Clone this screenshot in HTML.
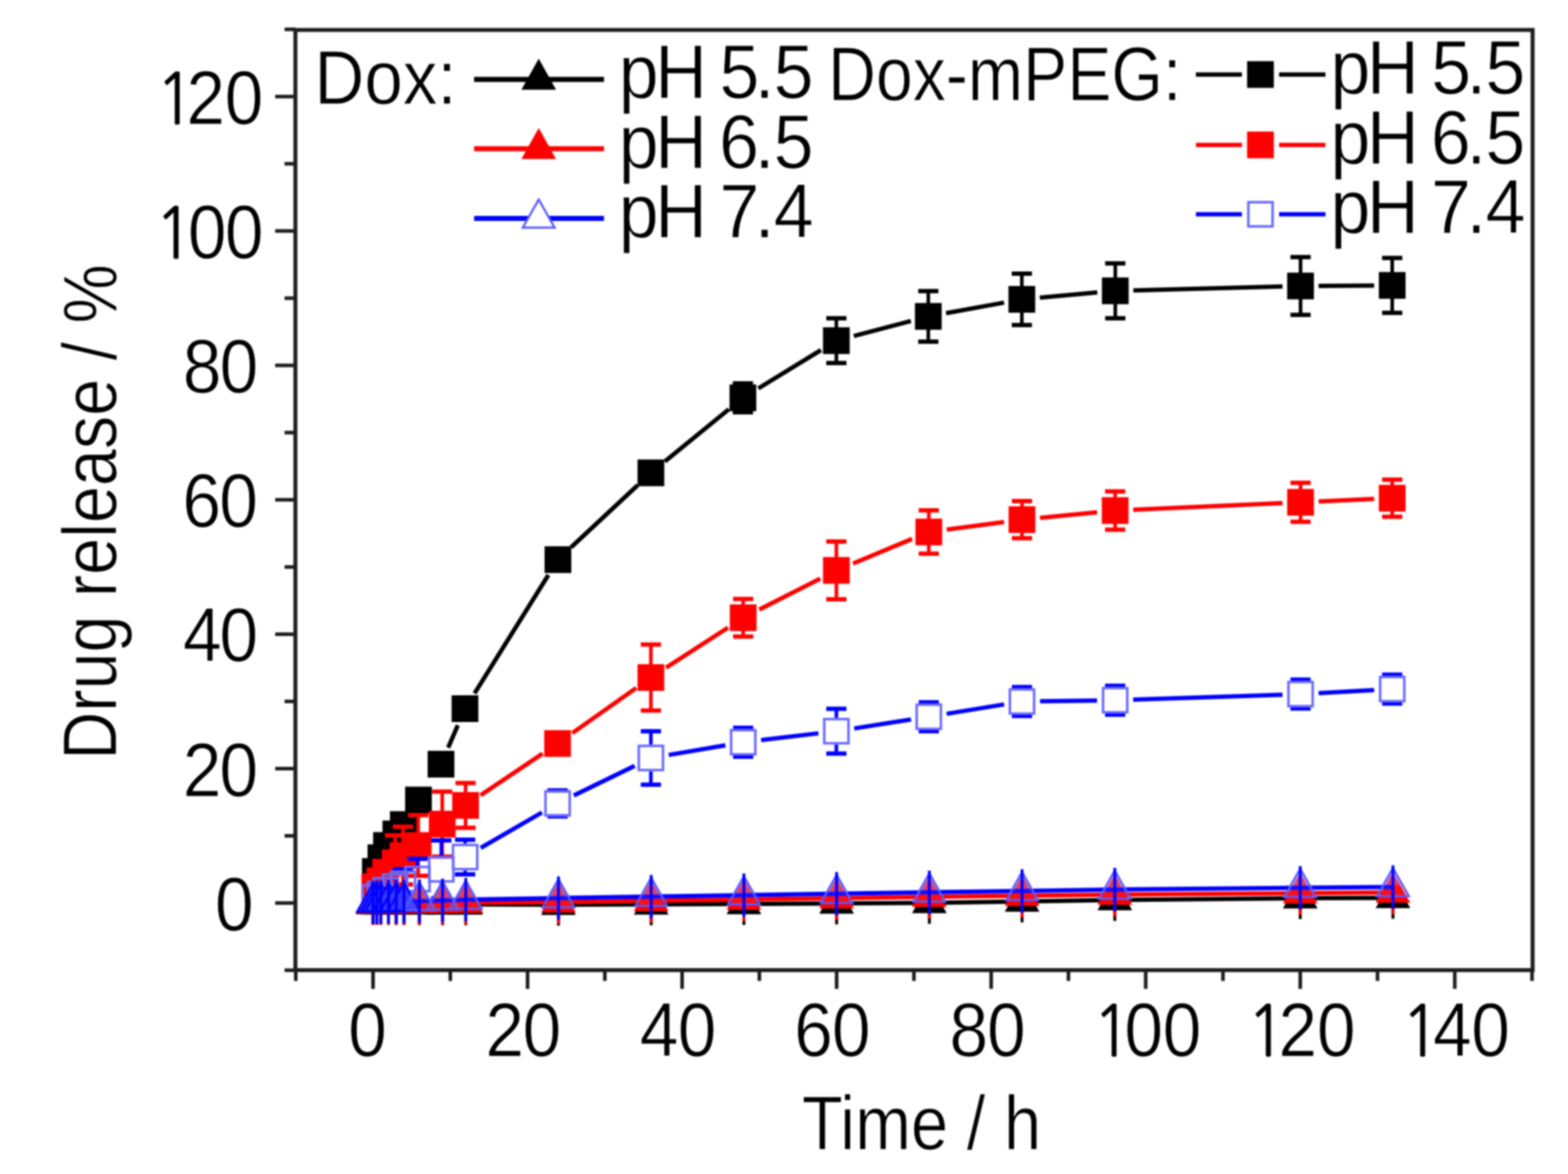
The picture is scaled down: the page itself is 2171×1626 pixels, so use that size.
<!DOCTYPE html>
<html><head><meta charset="utf-8"><title>Drug release</title>
<style>html,body{margin:0;padding:0;background:#fff;width:2171px;height:1626px;overflow:hidden}svg{display:block;filter:blur(0.9px)}</style>
</head><body><svg width="2171" height="1626" viewBox="0 0 2171 1626"><defs><linearGradient id="tg" x1="0" y1="0" x2="0" y2="1"><stop offset="0" stop-color="#a8a8ff" stop-opacity="0.4"/><stop offset="0.58" stop-color="#a8a8ff" stop-opacity="0.4"/><stop offset="0.62" stop-color="#a8a8ff" stop-opacity="0.1"/><stop offset="1" stop-color="#a8a8ff" stop-opacity="0.1"/></linearGradient></defs><rect width="2171" height="1626" fill="#fff"/><g stroke="#1e1e1e" stroke-width="5"><rect x="409" y="41.5" width="1713" height="1302.1" fill="none" stroke="#1e1e1e" stroke-width="5.5"/><line x1="394" y1="1343.78" x2="409" y2="1343.78"/><line x1="381" y1="1250.70" x2="409" y2="1250.70"/><line x1="394" y1="1157.62" x2="409" y2="1157.62"/><line x1="381" y1="1064.54" x2="409" y2="1064.54"/><line x1="394" y1="971.46" x2="409" y2="971.46"/><line x1="381" y1="878.38" x2="409" y2="878.38"/><line x1="394" y1="785.30" x2="409" y2="785.30"/><line x1="381" y1="692.22" x2="409" y2="692.22"/><line x1="394" y1="599.14" x2="409" y2="599.14"/><line x1="381" y1="506.06" x2="409" y2="506.06"/><line x1="394" y1="412.98" x2="409" y2="412.98"/><line x1="381" y1="319.90" x2="409" y2="319.90"/><line x1="394" y1="226.82" x2="409" y2="226.82"/><line x1="381" y1="133.74" x2="409" y2="133.74"/><line x1="394" y1="40.66" x2="409" y2="40.66"/><line x1="409.52" y1="1343.6" x2="409.52" y2="1358.6"/><line x1="516.50" y1="1343.6" x2="516.50" y2="1369.6"/><line x1="623.48" y1="1343.6" x2="623.48" y2="1358.6"/><line x1="730.46" y1="1343.6" x2="730.46" y2="1369.6"/><line x1="837.44" y1="1343.6" x2="837.44" y2="1358.6"/><line x1="944.42" y1="1343.6" x2="944.42" y2="1369.6"/><line x1="1051.40" y1="1343.6" x2="1051.40" y2="1358.6"/><line x1="1158.38" y1="1343.6" x2="1158.38" y2="1369.6"/><line x1="1265.36" y1="1343.6" x2="1265.36" y2="1358.6"/><line x1="1372.34" y1="1343.6" x2="1372.34" y2="1369.6"/><line x1="1479.32" y1="1343.6" x2="1479.32" y2="1358.6"/><line x1="1586.30" y1="1343.6" x2="1586.30" y2="1369.6"/><line x1="1693.28" y1="1343.6" x2="1693.28" y2="1358.6"/><line x1="1800.26" y1="1343.6" x2="1800.26" y2="1369.6"/><line x1="1907.24" y1="1343.6" x2="1907.24" y2="1358.6"/><line x1="2014.22" y1="1343.6" x2="2014.22" y2="1369.6"/><line x1="2121.20" y1="1343.6" x2="2121.20" y2="1358.6"/></g><g font-family="Liberation Sans, Arial, sans-serif" fill="#000" stroke="#fff" stroke-width="1"><text x="234.18 280.48 338.09" y="0" transform="translate(0,171.74) scale(0.92,1)" font-size="105"><tspan font-family="NanumGothic, Liberation Sans, sans-serif" font-size="97" stroke="#000" stroke-width="0.8">1</tspan>20</text><text x="232.55 282.66 338.20" y="0" transform="translate(0,357.90) scale(0.92,1)" font-size="105"><tspan font-family="NanumGothic, Liberation Sans, sans-serif" font-size="97" stroke="#000" stroke-width="0.8">1</tspan>00</text><text x="275.05 330.48" y="0" transform="translate(0,544.06) scale(0.92,1)" font-size="105">80</text><text x="274.57 329.94" y="0" transform="translate(0,730.22) scale(0.92,1)" font-size="105">60</text><text x="275.36 330.27" y="0" transform="translate(0,916.38) scale(0.92,1)" font-size="105">40</text><text x="275.05 330.27" y="0" transform="translate(0,1102.54) scale(0.92,1)" font-size="105">20</text><text x="323.42" y="0" transform="translate(0,1288.70) scale(0.92,1)" font-size="105">0</text><text x="523.96" y="0" transform="translate(0,1462.60) scale(0.92,1)" font-size="105">0</text><text x="730.38 786.46" y="0" transform="translate(0,1462.60) scale(0.92,1)" font-size="105">20</text><text x="962.65 1019.72" y="0" transform="translate(0,1462.60) scale(0.92,1)" font-size="105">40</text><text x="1195.12 1252.01" y="0" transform="translate(0,1462.60) scale(0.92,1)" font-size="105">60</text><text x="1428.74 1485.27" y="0" transform="translate(0,1462.60) scale(0.92,1)" font-size="105">80</text><text x="1644.40 1692.01 1749.83" y="0" transform="translate(0,1462.60) scale(0.92,1)" font-size="105"><tspan font-family="NanumGothic, Liberation Sans, sans-serif" font-size="97" stroke="#000" stroke-width="0.8">1</tspan>00</text><text x="1876.36 1923.96 1981.79" y="0" transform="translate(0,1462.60) scale(0.92,1)" font-size="105"><tspan font-family="NanumGothic, Liberation Sans, sans-serif" font-size="97" stroke="#000" stroke-width="0.8">1</tspan>20</text><text x="2108.75 2156.67 2214.18" y="0" transform="translate(0,1462.60) scale(0.92,1)" font-size="105"><tspan font-family="NanumGothic, Liberation Sans, sans-serif" font-size="97" stroke="#000" stroke-width="0.8">1</tspan>40</text><text transform="translate(1110.16,1591.50) scale(0.8830,1)" font-size="105">Time / h</text><text transform="translate(160.50,1052.26) rotate(-90) scale(0.8777,1)" font-size="105">Drug release / %</text><text transform="translate(435.25,143.80) scale(0.9119,1)" font-size="105">Dox:</text><text transform="translate(1146.38,139.40) scale(0.8738,1)" font-size="105">Dox-mPEG:</text><text x="901.65 954.78 1020.56 1048.49 1099.72 1127.44" y="0" transform="translate(0,136.20) scale(0.95,1)" font-size="105">pH 5.5</text><text x="901.65 954.78 1020.56 1048.02 1099.72 1127.44" y="0" transform="translate(0,232.60) scale(0.95,1)" font-size="105">pH 6.5</text><text x="901.65 954.78 1020.56 1048.34 1099.72 1127.65" y="0" transform="translate(0,329.00) scale(0.95,1)" font-size="105">pH 7.4</text><text x="1938.92 1992.04 2057.83 2085.76 2136.98 2164.70" y="0" transform="translate(0,130.30) scale(0.95,1)" font-size="105">pH 5.5</text><text x="1938.92 1992.04 2057.83 2085.28 2136.98 2164.70" y="0" transform="translate(0,227.30) scale(0.95,1)" font-size="105">pH 6.5</text><text x="1938.92 1992.04 2057.83 2085.60 2136.98 2164.91" y="0" transform="translate(0,323.30) scale(0.95,1)" font-size="105">pH 7.4</text></g><g><path d="M620.51,1035.45L633.89,1004.45M657.03,960.29L759.27,796.31M790.77,758.04L882.93,671.96M920.57,639.10L1009.23,566.80M1049.92,537.95L1136.68,484.85M1182.17,465.42L1261.13,444.58M1309.89,433.72L1390.21,419.08M1439.70,412.33L1519.30,405.07M1569.19,402.15L1775.71,396.75M1825.70,395.94L1902.60,395.46" stroke="#000" stroke-width="6" fill="none" stroke-linecap="butt"/><line x1="1028.60" y1="531.00" x2="1028.60" y2="551.00" stroke="#000" stroke-width="5"/><line x1="1028.60" y1="551.00" x2="1028.60" y2="571.00" stroke="#000" stroke-width="5"/><line x1="1014.60" y1="531.00" x2="1042.60" y2="531.00" stroke="#000" stroke-width="6"/><line x1="1014.60" y1="571.00" x2="1042.60" y2="571.00" stroke="#000" stroke-width="6"/><line x1="1158.00" y1="440.80" x2="1158.00" y2="471.80" stroke="#000" stroke-width="5"/><line x1="1158.00" y1="471.80" x2="1158.00" y2="502.80" stroke="#000" stroke-width="5"/><line x1="1144.00" y1="440.80" x2="1172.00" y2="440.80" stroke="#000" stroke-width="6"/><line x1="1144.00" y1="502.80" x2="1172.00" y2="502.80" stroke="#000" stroke-width="6"/><line x1="1285.30" y1="403.20" x2="1285.30" y2="438.20" stroke="#000" stroke-width="5"/><line x1="1285.30" y1="438.20" x2="1285.30" y2="473.20" stroke="#000" stroke-width="5"/><line x1="1271.30" y1="403.20" x2="1299.30" y2="403.20" stroke="#000" stroke-width="6"/><line x1="1271.30" y1="473.20" x2="1299.30" y2="473.20" stroke="#000" stroke-width="6"/><line x1="1414.80" y1="379.00" x2="1414.80" y2="414.60" stroke="#000" stroke-width="5"/><line x1="1414.80" y1="414.60" x2="1414.80" y2="450.20" stroke="#000" stroke-width="5"/><line x1="1400.80" y1="379.00" x2="1428.80" y2="379.00" stroke="#000" stroke-width="6"/><line x1="1400.80" y1="450.20" x2="1428.80" y2="450.20" stroke="#000" stroke-width="6"/><line x1="1544.20" y1="364.80" x2="1544.20" y2="402.80" stroke="#000" stroke-width="5"/><line x1="1544.20" y1="402.80" x2="1544.20" y2="440.80" stroke="#000" stroke-width="5"/><line x1="1530.20" y1="364.80" x2="1558.20" y2="364.80" stroke="#000" stroke-width="6"/><line x1="1530.20" y1="440.80" x2="1558.20" y2="440.80" stroke="#000" stroke-width="6"/><line x1="1800.70" y1="356.10" x2="1800.70" y2="396.10" stroke="#000" stroke-width="5"/><line x1="1800.70" y1="396.10" x2="1800.70" y2="436.10" stroke="#000" stroke-width="5"/><line x1="1786.70" y1="356.10" x2="1814.70" y2="356.10" stroke="#000" stroke-width="6"/><line x1="1786.70" y1="436.10" x2="1814.70" y2="436.10" stroke="#000" stroke-width="6"/><line x1="1927.60" y1="357.30" x2="1927.60" y2="395.30" stroke="#000" stroke-width="5"/><line x1="1927.60" y1="395.30" x2="1927.60" y2="433.30" stroke="#000" stroke-width="5"/><line x1="1913.60" y1="357.30" x2="1941.60" y2="357.30" stroke="#000" stroke-width="6"/><line x1="1913.60" y1="433.30" x2="1941.60" y2="433.30" stroke="#000" stroke-width="6"/><rect x="501.20" y="1188.50" width="37" height="37" fill="#000"/><rect x="508.90" y="1169.50" width="37" height="37" fill="#000"/><rect x="516.60" y="1152.50" width="37" height="37" fill="#000"/><rect x="529.60" y="1136.50" width="37" height="37" fill="#000"/><rect x="539.90" y="1123.50" width="37" height="37" fill="#000"/><rect x="560.90" y="1089.50" width="37" height="37" fill="#000"/><rect x="592.10" y="1039.90" width="37" height="37" fill="#000"/><rect x="625.30" y="963.00" width="37" height="37" fill="#000"/><rect x="754.00" y="756.60" width="37" height="37" fill="#000"/><rect x="882.70" y="636.40" width="37" height="37" fill="#000"/><rect x="1010.10" y="532.50" width="37" height="37" fill="#000"/><rect x="1139.50" y="453.30" width="37" height="37" fill="#000"/><rect x="1266.80" y="419.70" width="37" height="37" fill="#000"/><rect x="1396.30" y="396.10" width="37" height="37" fill="#000"/><rect x="1525.70" y="384.30" width="37" height="37" fill="#000"/><rect x="1782.20" y="377.60" width="37" height="37" fill="#000"/><rect x="1909.10" y="376.80" width="37" height="37" fill="#000"/><path d="M665.34,1101.55L751.26,1043.75M792.41,1015.36L880.79,952.84M922.18,924.81L1008.02,869.19M1051.28,844.27L1135.72,801.33M1181.09,780.41L1262.91,746.39M1310.78,733.51L1390.22,722.99M1439.88,717.27L1519.12,709.53M1568.98,705.99L1775.72,696.81M1825.67,694.58L1902.63,691.12" stroke="#f00" stroke-width="6" fill="none" stroke-linecap="butt"/><line x1="547.00" y1="1157.00" x2="547.00" y2="1195.00" stroke="#f00" stroke-width="5"/><line x1="547.00" y1="1195.00" x2="547.00" y2="1233.00" stroke="#f00" stroke-width="5"/><line x1="533.00" y1="1157.00" x2="561.00" y2="1157.00" stroke="#f00" stroke-width="6"/><line x1="533.00" y1="1233.00" x2="561.00" y2="1233.00" stroke="#f00" stroke-width="6"/><line x1="558.00" y1="1145.00" x2="558.00" y2="1185.00" stroke="#f00" stroke-width="5"/><line x1="558.00" y1="1185.00" x2="558.00" y2="1225.00" stroke="#f00" stroke-width="5"/><line x1="544.00" y1="1145.00" x2="572.00" y2="1145.00" stroke="#f00" stroke-width="6"/><line x1="544.00" y1="1225.00" x2="572.00" y2="1225.00" stroke="#f00" stroke-width="6"/><line x1="579.00" y1="1129.00" x2="579.00" y2="1171.00" stroke="#f00" stroke-width="5"/><line x1="579.00" y1="1171.00" x2="579.00" y2="1213.00" stroke="#f00" stroke-width="5"/><line x1="565.00" y1="1129.00" x2="593.00" y2="1129.00" stroke="#f00" stroke-width="6"/><line x1="565.00" y1="1213.00" x2="593.00" y2="1213.00" stroke="#f00" stroke-width="6"/><line x1="612.30" y1="1096.40" x2="612.30" y2="1141.40" stroke="#f00" stroke-width="5"/><line x1="612.30" y1="1141.40" x2="612.30" y2="1186.40" stroke="#f00" stroke-width="5"/><line x1="598.30" y1="1096.40" x2="626.30" y2="1096.40" stroke="#f00" stroke-width="6"/><line x1="598.30" y1="1186.40" x2="626.30" y2="1186.40" stroke="#f00" stroke-width="6"/><line x1="644.60" y1="1084.50" x2="644.60" y2="1115.50" stroke="#f00" stroke-width="5"/><line x1="644.60" y1="1115.50" x2="644.60" y2="1146.50" stroke="#f00" stroke-width="5"/><line x1="630.60" y1="1084.50" x2="658.60" y2="1084.50" stroke="#f00" stroke-width="6"/><line x1="630.60" y1="1146.50" x2="658.60" y2="1146.50" stroke="#f00" stroke-width="6"/><line x1="901.20" y1="892.70" x2="901.20" y2="938.40" stroke="#f00" stroke-width="5"/><line x1="901.20" y1="938.40" x2="901.20" y2="984.10" stroke="#f00" stroke-width="5"/><line x1="887.20" y1="892.70" x2="915.20" y2="892.70" stroke="#f00" stroke-width="6"/><line x1="887.20" y1="984.10" x2="915.20" y2="984.10" stroke="#f00" stroke-width="6"/><line x1="1029.00" y1="829.60" x2="1029.00" y2="855.60" stroke="#f00" stroke-width="5"/><line x1="1029.00" y1="855.60" x2="1029.00" y2="881.60" stroke="#f00" stroke-width="5"/><line x1="1015.00" y1="829.60" x2="1043.00" y2="829.60" stroke="#f00" stroke-width="6"/><line x1="1015.00" y1="881.60" x2="1043.00" y2="881.60" stroke="#f00" stroke-width="6"/><line x1="1158.00" y1="750.00" x2="1158.00" y2="790.00" stroke="#f00" stroke-width="5"/><line x1="1158.00" y1="790.00" x2="1158.00" y2="830.00" stroke="#f00" stroke-width="5"/><line x1="1144.00" y1="750.00" x2="1172.00" y2="750.00" stroke="#f00" stroke-width="6"/><line x1="1144.00" y1="830.00" x2="1172.00" y2="830.00" stroke="#f00" stroke-width="6"/><line x1="1286.00" y1="706.80" x2="1286.00" y2="736.80" stroke="#f00" stroke-width="5"/><line x1="1286.00" y1="736.80" x2="1286.00" y2="766.80" stroke="#f00" stroke-width="5"/><line x1="1272.00" y1="706.80" x2="1300.00" y2="706.80" stroke="#f00" stroke-width="6"/><line x1="1272.00" y1="766.80" x2="1300.00" y2="766.80" stroke="#f00" stroke-width="6"/><line x1="1415.00" y1="694.00" x2="1415.00" y2="719.70" stroke="#f00" stroke-width="5"/><line x1="1415.00" y1="719.70" x2="1415.00" y2="745.40" stroke="#f00" stroke-width="5"/><line x1="1401.00" y1="694.00" x2="1429.00" y2="694.00" stroke="#f00" stroke-width="6"/><line x1="1401.00" y1="745.40" x2="1429.00" y2="745.40" stroke="#f00" stroke-width="6"/><line x1="1544.00" y1="680.60" x2="1544.00" y2="707.10" stroke="#f00" stroke-width="5"/><line x1="1544.00" y1="707.10" x2="1544.00" y2="733.60" stroke="#f00" stroke-width="5"/><line x1="1530.00" y1="680.60" x2="1558.00" y2="680.60" stroke="#f00" stroke-width="6"/><line x1="1530.00" y1="733.60" x2="1558.00" y2="733.60" stroke="#f00" stroke-width="6"/><line x1="1800.70" y1="668.70" x2="1800.70" y2="695.70" stroke="#f00" stroke-width="5"/><line x1="1800.70" y1="695.70" x2="1800.70" y2="722.70" stroke="#f00" stroke-width="5"/><line x1="1786.70" y1="668.70" x2="1814.70" y2="668.70" stroke="#f00" stroke-width="6"/><line x1="1786.70" y1="722.70" x2="1814.70" y2="722.70" stroke="#f00" stroke-width="6"/><line x1="1927.60" y1="664.30" x2="1927.60" y2="690.00" stroke="#f00" stroke-width="5"/><line x1="1927.60" y1="690.00" x2="1927.60" y2="715.70" stroke="#f00" stroke-width="5"/><line x1="1913.60" y1="664.30" x2="1941.60" y2="664.30" stroke="#f00" stroke-width="6"/><line x1="1913.60" y1="715.70" x2="1941.60" y2="715.70" stroke="#f00" stroke-width="6"/><rect x="500.50" y="1209.50" width="37" height="37" fill="#f00"/><rect x="507.50" y="1201.50" width="37" height="37" fill="#f00"/><rect x="515.50" y="1189.50" width="37" height="37" fill="#f00"/><rect x="528.50" y="1176.50" width="37" height="37" fill="#f00"/><rect x="539.50" y="1166.50" width="37" height="37" fill="#f00"/><rect x="560.50" y="1152.50" width="37" height="37" fill="#f00"/><rect x="593.80" y="1122.90" width="37" height="37" fill="#f00"/><rect x="626.10" y="1097.00" width="37" height="37" fill="#f00"/><rect x="753.50" y="1011.30" width="37" height="37" fill="#f00"/><rect x="882.70" y="919.90" width="37" height="37" fill="#f00"/><rect x="1010.50" y="837.10" width="37" height="37" fill="#f00"/><rect x="1139.50" y="771.50" width="37" height="37" fill="#f00"/><rect x="1267.50" y="718.30" width="37" height="37" fill="#f00"/><rect x="1396.50" y="701.20" width="37" height="37" fill="#f00"/><rect x="1525.50" y="688.60" width="37" height="37" fill="#f00"/><rect x="1782.20" y="677.20" width="37" height="37" fill="#f00"/><rect x="1909.10" y="671.50" width="37" height="37" fill="#f00"/><path d="M665.62,1174.45L750.38,1125.25M794.48,1101.76L878.72,1060.74M925.84,1045.60L1004.36,1032.20M1053.83,1025.06L1133.17,1015.64M1182.70,1008.84L1261.30,996.56M1310.67,988.66L1390.33,975.64M1440.00,971.25L1519.00,970.15M1568.99,968.97L1775.71,962.13M1825.66,959.94L1902.64,955.76" stroke="#00f" stroke-width="6" fill="none" stroke-linecap="butt"/><line x1="558.00" y1="1204.00" x2="558.00" y2="1205.50" stroke="#00f" stroke-width="5"/><line x1="558.00" y1="1242.50" x2="558.00" y2="1244.00" stroke="#00f" stroke-width="5"/><line x1="544.00" y1="1204.00" x2="572.00" y2="1204.00" stroke="#00f" stroke-width="6"/><line x1="544.00" y1="1244.00" x2="572.00" y2="1244.00" stroke="#00f" stroke-width="6"/><line x1="578.00" y1="1189.50" x2="578.00" y2="1199.00" stroke="#00f" stroke-width="5"/><line x1="578.00" y1="1236.00" x2="578.00" y2="1245.50" stroke="#00f" stroke-width="5"/><line x1="564.00" y1="1189.50" x2="592.00" y2="1189.50" stroke="#00f" stroke-width="6"/><line x1="564.00" y1="1245.50" x2="592.00" y2="1245.50" stroke="#00f" stroke-width="6"/><line x1="611.00" y1="1164.00" x2="611.00" y2="1185.50" stroke="#00f" stroke-width="5"/><line x1="611.00" y1="1222.50" x2="611.00" y2="1244.00" stroke="#00f" stroke-width="5"/><line x1="597.00" y1="1164.00" x2="625.00" y2="1164.00" stroke="#00f" stroke-width="6"/><line x1="597.00" y1="1244.00" x2="625.00" y2="1244.00" stroke="#00f" stroke-width="6"/><line x1="644.00" y1="1163.00" x2="644.00" y2="1168.50" stroke="#00f" stroke-width="5"/><line x1="644.00" y1="1205.50" x2="644.00" y2="1211.00" stroke="#00f" stroke-width="5"/><line x1="630.00" y1="1163.00" x2="658.00" y2="1163.00" stroke="#00f" stroke-width="6"/><line x1="630.00" y1="1211.00" x2="658.00" y2="1211.00" stroke="#00f" stroke-width="6"/><line x1="758.00" y1="1094.70" x2="786.00" y2="1094.70" stroke="#00f" stroke-width="6"/><line x1="758.00" y1="1130.70" x2="786.00" y2="1130.70" stroke="#00f" stroke-width="6"/><line x1="901.20" y1="1012.80" x2="901.20" y2="1031.30" stroke="#00f" stroke-width="5"/><line x1="901.20" y1="1068.30" x2="901.20" y2="1086.80" stroke="#00f" stroke-width="5"/><line x1="887.20" y1="1012.80" x2="915.20" y2="1012.80" stroke="#00f" stroke-width="6"/><line x1="887.20" y1="1086.80" x2="915.20" y2="1086.80" stroke="#00f" stroke-width="6"/><line x1="1029.00" y1="1008.00" x2="1029.00" y2="1009.50" stroke="#00f" stroke-width="5"/><line x1="1029.00" y1="1046.50" x2="1029.00" y2="1048.00" stroke="#00f" stroke-width="5"/><line x1="1015.00" y1="1008.00" x2="1043.00" y2="1008.00" stroke="#00f" stroke-width="6"/><line x1="1015.00" y1="1048.00" x2="1043.00" y2="1048.00" stroke="#00f" stroke-width="6"/><line x1="1158.00" y1="981.70" x2="1158.00" y2="994.20" stroke="#00f" stroke-width="5"/><line x1="1158.00" y1="1031.20" x2="1158.00" y2="1043.70" stroke="#00f" stroke-width="5"/><line x1="1144.00" y1="981.70" x2="1172.00" y2="981.70" stroke="#00f" stroke-width="6"/><line x1="1144.00" y1="1043.70" x2="1172.00" y2="1043.70" stroke="#00f" stroke-width="6"/><line x1="1286.00" y1="972.70" x2="1286.00" y2="974.20" stroke="#00f" stroke-width="5"/><line x1="1286.00" y1="1011.20" x2="1286.00" y2="1012.70" stroke="#00f" stroke-width="5"/><line x1="1272.00" y1="972.70" x2="1300.00" y2="972.70" stroke="#00f" stroke-width="6"/><line x1="1272.00" y1="1012.70" x2="1300.00" y2="1012.70" stroke="#00f" stroke-width="6"/><line x1="1415.00" y1="951.60" x2="1415.00" y2="953.10" stroke="#00f" stroke-width="5"/><line x1="1415.00" y1="990.10" x2="1415.00" y2="991.60" stroke="#00f" stroke-width="5"/><line x1="1401.00" y1="951.60" x2="1429.00" y2="951.60" stroke="#00f" stroke-width="6"/><line x1="1401.00" y1="991.60" x2="1429.00" y2="991.60" stroke="#00f" stroke-width="6"/><line x1="1544.00" y1="949.80" x2="1544.00" y2="951.30" stroke="#00f" stroke-width="5"/><line x1="1544.00" y1="988.30" x2="1544.00" y2="989.80" stroke="#00f" stroke-width="5"/><line x1="1530.00" y1="949.80" x2="1558.00" y2="949.80" stroke="#00f" stroke-width="6"/><line x1="1530.00" y1="989.80" x2="1558.00" y2="989.80" stroke="#00f" stroke-width="6"/><line x1="1800.70" y1="941.30" x2="1800.70" y2="942.80" stroke="#00f" stroke-width="5"/><line x1="1800.70" y1="979.80" x2="1800.70" y2="981.30" stroke="#00f" stroke-width="5"/><line x1="1786.70" y1="941.30" x2="1814.70" y2="941.30" stroke="#00f" stroke-width="6"/><line x1="1786.70" y1="981.30" x2="1814.70" y2="981.30" stroke="#00f" stroke-width="6"/><line x1="1927.60" y1="934.40" x2="1927.60" y2="935.90" stroke="#00f" stroke-width="5"/><line x1="1927.60" y1="972.90" x2="1927.60" y2="974.40" stroke="#00f" stroke-width="5"/><line x1="1913.60" y1="934.40" x2="1941.60" y2="934.40" stroke="#00f" stroke-width="6"/><line x1="1913.60" y1="974.40" x2="1941.60" y2="974.40" stroke="#00f" stroke-width="6"/><rect x="502.25" y="1226.25" width="33.5" height="33.5" fill="none" stroke="#6a6aff" stroke-width="3.5"/><rect x="509.25" y="1221.25" width="33.5" height="33.5" fill="none" stroke="#6a6aff" stroke-width="3.5"/><rect x="517.25" y="1216.25" width="33.5" height="33.5" fill="none" stroke="#6a6aff" stroke-width="3.5"/><rect x="530.25" y="1211.25" width="33.5" height="33.5" fill="none" stroke="#6a6aff" stroke-width="3.5"/><rect x="541.25" y="1207.25" width="33.5" height="33.5" fill="none" stroke="#6a6aff" stroke-width="3.5"/><rect x="561.25" y="1200.75" width="33.5" height="33.5" fill="none" stroke="#6a6aff" stroke-width="3.5"/><rect x="594.25" y="1187.25" width="33.5" height="33.5" fill="none" stroke="#6a6aff" stroke-width="3.5"/><rect x="627.25" y="1170.25" width="33.5" height="33.5" fill="none" stroke="#6a6aff" stroke-width="3.5"/><rect x="755.25" y="1095.95" width="33.5" height="33.5" fill="none" stroke="#6a6aff" stroke-width="3.5"/><rect x="884.45" y="1033.05" width="33.5" height="33.5" fill="none" stroke="#6a6aff" stroke-width="3.5"/><rect x="1012.25" y="1011.25" width="33.5" height="33.5" fill="none" stroke="#6a6aff" stroke-width="3.5"/><rect x="1141.25" y="995.95" width="33.5" height="33.5" fill="none" stroke="#6a6aff" stroke-width="3.5"/><rect x="1269.25" y="975.95" width="33.5" height="33.5" fill="none" stroke="#6a6aff" stroke-width="3.5"/><rect x="1398.25" y="954.85" width="33.5" height="33.5" fill="none" stroke="#6a6aff" stroke-width="3.5"/><rect x="1527.25" y="953.05" width="33.5" height="33.5" fill="none" stroke="#6a6aff" stroke-width="3.5"/><rect x="1783.95" y="944.55" width="33.5" height="33.5" fill="none" stroke="#6a6aff" stroke-width="3.5"/><rect x="1910.85" y="937.65" width="33.5" height="33.5" fill="none" stroke="#6a6aff" stroke-width="3.5"/><path d="M527.20,1252.04L537.90,1252.08M537.90,1252.08L548.59,1252.12M548.59,1252.12L559.29,1252.17M559.29,1252.17L580.69,1252.25M580.69,1252.25L612.78,1252.38M612.78,1252.38L644.88,1252.50M644.88,1252.50L773.25,1253.00M773.25,1253.00L901.63,1252.50M901.63,1252.50L1030.00,1252.00M1030.00,1252.00L1158.38,1251.25M1158.38,1251.25L1286.76,1250.50M1286.76,1250.50L1415.13,1248.50M1415.13,1248.50L1543.51,1246.50M1543.51,1246.50L1800.26,1244.00M1800.26,1244.00L1928.64,1243.50" stroke="#000" stroke-width="6" fill="none" stroke-linecap="butt"/><path d="M516.50,1223.33L492.50,1266.33L540.50,1266.33Z" fill="#000"/><path d="M521.85,1223.35L497.85,1266.35L545.85,1266.35Z" fill="#000"/><path d="M527.20,1223.38L503.20,1266.38L551.20,1266.38Z" fill="#000"/><path d="M537.90,1223.42L513.90,1266.42L561.90,1266.42Z" fill="#000"/><path d="M548.59,1223.46L524.59,1266.46L572.59,1266.46Z" fill="#000"/><path d="M559.29,1223.50L535.29,1266.50L583.29,1266.50Z" fill="#000"/><path d="M580.69,1223.58L556.69,1266.58L604.69,1266.58Z" fill="#000"/><path d="M612.78,1223.71L588.78,1266.71L636.78,1266.71Z" fill="#000"/><path d="M644.88,1223.83L620.88,1266.83L668.88,1266.83Z" fill="#000"/><path d="M773.25,1224.33L749.25,1267.33L797.25,1267.33Z" fill="#000"/><path d="M901.63,1223.83L877.63,1266.83L925.63,1266.83Z" fill="#000"/><path d="M1030.00,1223.33L1006.00,1266.33L1054.00,1266.33Z" fill="#000"/><path d="M1158.38,1222.58L1134.38,1265.58L1182.38,1265.58Z" fill="#000"/><path d="M1286.76,1221.83L1262.76,1264.83L1310.76,1264.83Z" fill="#000"/><path d="M1415.13,1219.83L1391.13,1262.83L1439.13,1262.83Z" fill="#000"/><path d="M1543.51,1217.83L1519.51,1260.83L1567.51,1260.83Z" fill="#000"/><path d="M1800.26,1215.33L1776.26,1258.33L1824.26,1258.33Z" fill="#000"/><path d="M1928.64,1214.83L1904.64,1257.83L1952.64,1257.83Z" fill="#000"/><line x1="516.50" y1="1223.00" x2="516.50" y2="1281.00" stroke="#000" stroke-width="4"/><line x1="521.85" y1="1223.02" x2="521.85" y2="1281.02" stroke="#000" stroke-width="4"/><line x1="527.20" y1="1223.04" x2="527.20" y2="1281.04" stroke="#000" stroke-width="4"/><line x1="537.90" y1="1223.08" x2="537.90" y2="1281.08" stroke="#000" stroke-width="4"/><line x1="548.59" y1="1223.12" x2="548.59" y2="1281.12" stroke="#000" stroke-width="4"/><line x1="559.29" y1="1223.17" x2="559.29" y2="1281.17" stroke="#000" stroke-width="4"/><line x1="580.69" y1="1223.25" x2="580.69" y2="1281.25" stroke="#000" stroke-width="4"/><line x1="612.78" y1="1223.38" x2="612.78" y2="1281.38" stroke="#000" stroke-width="4"/><line x1="644.88" y1="1223.50" x2="644.88" y2="1281.50" stroke="#000" stroke-width="4"/><line x1="773.25" y1="1224.00" x2="773.25" y2="1282.00" stroke="#000" stroke-width="4"/><line x1="901.63" y1="1223.50" x2="901.63" y2="1281.50" stroke="#000" stroke-width="4"/><line x1="1030.00" y1="1223.00" x2="1030.00" y2="1281.00" stroke="#000" stroke-width="4"/><line x1="1158.38" y1="1222.25" x2="1158.38" y2="1280.25" stroke="#000" stroke-width="4"/><line x1="1286.76" y1="1221.50" x2="1286.76" y2="1279.50" stroke="#000" stroke-width="4"/><line x1="1415.13" y1="1219.50" x2="1415.13" y2="1277.50" stroke="#000" stroke-width="4"/><line x1="1543.51" y1="1217.50" x2="1543.51" y2="1275.50" stroke="#000" stroke-width="4"/><line x1="1800.26" y1="1215.00" x2="1800.26" y2="1273.00" stroke="#000" stroke-width="4"/><line x1="1928.64" y1="1214.50" x2="1928.64" y2="1272.50" stroke="#000" stroke-width="4"/><path d="M527.20,1250.94L537.90,1250.88M537.90,1250.88L548.59,1250.81M548.59,1250.81L559.29,1250.75M559.29,1250.75L580.69,1250.62M580.69,1250.62L612.78,1250.44M612.78,1250.44L644.88,1250.25M644.88,1250.25L773.25,1249.50M773.25,1249.50L901.63,1247.62M901.63,1247.62L1030.00,1245.75M1030.00,1245.75L1158.38,1243.88M1158.38,1243.88L1286.76,1242.00M1286.76,1242.00L1415.13,1240.50M1415.13,1240.50L1543.51,1239.00M1543.51,1239.00L1800.26,1237.00M1800.26,1237.00L1928.64,1236.00" stroke="#f00" stroke-width="6" fill="none" stroke-linecap="butt"/><path d="M516.50,1222.33L492.50,1265.33L540.50,1265.33Z" fill="#f00"/><path d="M521.85,1222.30L497.85,1265.30L545.85,1265.30Z" fill="#f00"/><path d="M527.20,1222.27L503.20,1265.27L551.20,1265.27Z" fill="#f00"/><path d="M537.90,1222.21L513.90,1265.21L561.90,1265.21Z" fill="#f00"/><path d="M548.59,1222.15L524.59,1265.15L572.59,1265.15Z" fill="#f00"/><path d="M559.29,1222.08L535.29,1265.08L583.29,1265.08Z" fill="#f00"/><path d="M580.69,1221.96L556.69,1264.96L604.69,1264.96Z" fill="#f00"/><path d="M612.78,1221.77L588.78,1264.77L636.78,1264.77Z" fill="#f00"/><path d="M644.88,1221.58L620.88,1264.58L668.88,1264.58Z" fill="#f00"/><path d="M773.25,1220.83L749.25,1263.83L797.25,1263.83Z" fill="#f00"/><path d="M901.63,1218.96L877.63,1261.96L925.63,1261.96Z" fill="#f00"/><path d="M1030.00,1217.08L1006.00,1260.08L1054.00,1260.08Z" fill="#f00"/><path d="M1158.38,1215.21L1134.38,1258.21L1182.38,1258.21Z" fill="#f00"/><path d="M1286.76,1213.33L1262.76,1256.33L1310.76,1256.33Z" fill="#f00"/><path d="M1415.13,1211.83L1391.13,1254.83L1439.13,1254.83Z" fill="#f00"/><path d="M1543.51,1210.33L1519.51,1253.33L1567.51,1253.33Z" fill="#f00"/><path d="M1800.26,1208.33L1776.26,1251.33L1824.26,1251.33Z" fill="#f00"/><path d="M1928.64,1207.33L1904.64,1250.33L1952.64,1250.33Z" fill="#f00"/><line x1="516.50" y1="1221.00" x2="516.50" y2="1281.00" stroke="#f00" stroke-width="4"/><line x1="521.85" y1="1220.97" x2="521.85" y2="1280.97" stroke="#f00" stroke-width="4"/><line x1="527.20" y1="1220.94" x2="527.20" y2="1280.94" stroke="#f00" stroke-width="4"/><line x1="537.90" y1="1220.88" x2="537.90" y2="1280.88" stroke="#f00" stroke-width="4"/><line x1="548.59" y1="1220.81" x2="548.59" y2="1280.81" stroke="#f00" stroke-width="4"/><line x1="559.29" y1="1220.75" x2="559.29" y2="1280.75" stroke="#f00" stroke-width="4"/><line x1="580.69" y1="1220.62" x2="580.69" y2="1280.62" stroke="#f00" stroke-width="4"/><line x1="612.78" y1="1220.44" x2="612.78" y2="1280.44" stroke="#f00" stroke-width="4"/><line x1="644.88" y1="1220.25" x2="644.88" y2="1280.25" stroke="#f00" stroke-width="4"/><line x1="773.25" y1="1219.50" x2="773.25" y2="1279.50" stroke="#f00" stroke-width="4"/><line x1="901.63" y1="1217.62" x2="901.63" y2="1277.62" stroke="#f00" stroke-width="4"/><line x1="1030.00" y1="1215.75" x2="1030.00" y2="1275.75" stroke="#f00" stroke-width="4"/><line x1="1158.38" y1="1213.88" x2="1158.38" y2="1273.88" stroke="#f00" stroke-width="4"/><line x1="1286.76" y1="1212.00" x2="1286.76" y2="1272.00" stroke="#f00" stroke-width="4"/><line x1="1415.13" y1="1210.50" x2="1415.13" y2="1270.50" stroke="#f00" stroke-width="4"/><line x1="1543.51" y1="1209.00" x2="1543.51" y2="1269.00" stroke="#f00" stroke-width="4"/><line x1="1800.26" y1="1207.00" x2="1800.26" y2="1267.00" stroke="#f00" stroke-width="4"/><line x1="1928.64" y1="1206.00" x2="1928.64" y2="1266.00" stroke="#f00" stroke-width="4"/><path d="M527.20,1249.67L537.90,1249.33M537.90,1249.33L548.59,1249.00M548.59,1249.00L559.29,1248.67M559.29,1248.67L580.69,1248.00M580.69,1248.00L612.78,1247.00M612.78,1247.00L644.88,1246.00M644.88,1246.00L773.25,1243.80M773.25,1243.80L901.63,1241.80M901.63,1241.80L1030.00,1239.80M1030.00,1239.80L1158.38,1237.80M1158.38,1237.80L1286.76,1235.80M1286.76,1235.80L1415.13,1233.90M1415.13,1233.90L1543.51,1232.00M1543.51,1232.00L1800.26,1229.50M1800.26,1229.50L1928.64,1228.50" stroke="#00f" stroke-width="6" fill="none" stroke-linecap="butt"/><path d="M516.50,1223.83L494.50,1262.83L538.50,1262.83Z" fill="#3838ff" stroke="#0000ff" stroke-width="3" stroke-linejoin="miter"/><path d="M521.85,1223.67L499.85,1262.67L543.85,1262.67Z" fill="#3838ff" stroke="#0000ff" stroke-width="3" stroke-linejoin="miter"/><path d="M527.20,1223.50L505.20,1262.50L549.20,1262.50Z" fill="#3838ff" stroke="#0000ff" stroke-width="3" stroke-linejoin="miter"/><path d="M537.90,1223.17L515.90,1262.17L559.90,1262.17Z" fill="#3838ff" stroke="#0000ff" stroke-width="3" stroke-linejoin="miter"/><path d="M548.59,1222.83L526.59,1261.83L570.59,1261.83Z" fill="#3838ff" stroke="#0000ff" stroke-width="3" stroke-linejoin="miter"/><path d="M559.29,1222.50L537.29,1261.50L581.29,1261.50Z" fill="#3838ff" stroke="#0000ff" stroke-width="3" stroke-linejoin="miter"/><path d="M580.69,1221.83L558.69,1260.83L602.69,1260.83Z" fill="url(#tg)" stroke="#5a5aff" stroke-width="3" stroke-linejoin="miter"/><path d="M612.78,1220.83L590.78,1259.83L634.78,1259.83Z" fill="url(#tg)" stroke="#5a5aff" stroke-width="3" stroke-linejoin="miter"/><path d="M644.88,1219.83L622.88,1258.83L666.88,1258.83Z" fill="url(#tg)" stroke="#5a5aff" stroke-width="3" stroke-linejoin="miter"/><path d="M773.25,1217.63L751.25,1256.63L795.25,1256.63Z" fill="url(#tg)" stroke="#5a5aff" stroke-width="3" stroke-linejoin="miter"/><path d="M901.63,1215.63L879.63,1254.63L923.63,1254.63Z" fill="url(#tg)" stroke="#5a5aff" stroke-width="3" stroke-linejoin="miter"/><path d="M1030.00,1213.63L1008.00,1252.63L1052.00,1252.63Z" fill="url(#tg)" stroke="#5a5aff" stroke-width="3" stroke-linejoin="miter"/><path d="M1158.38,1211.63L1136.38,1250.63L1180.38,1250.63Z" fill="url(#tg)" stroke="#5a5aff" stroke-width="3" stroke-linejoin="miter"/><path d="M1286.76,1209.63L1264.76,1248.63L1308.76,1248.63Z" fill="url(#tg)" stroke="#5a5aff" stroke-width="3" stroke-linejoin="miter"/><path d="M1415.13,1207.73L1393.13,1246.73L1437.13,1246.73Z" fill="url(#tg)" stroke="#5a5aff" stroke-width="3" stroke-linejoin="miter"/><path d="M1543.51,1205.83L1521.51,1244.83L1565.51,1244.83Z" fill="url(#tg)" stroke="#5a5aff" stroke-width="3" stroke-linejoin="miter"/><path d="M1800.26,1203.33L1778.26,1242.33L1822.26,1242.33Z" fill="url(#tg)" stroke="#5a5aff" stroke-width="3" stroke-linejoin="miter"/><path d="M1928.64,1202.33L1906.64,1241.33L1950.64,1241.33Z" fill="url(#tg)" stroke="#5a5aff" stroke-width="3" stroke-linejoin="miter"/><line x1="516.50" y1="1220.00" x2="516.50" y2="1280.00" stroke="#00f" stroke-width="4"/><line x1="521.85" y1="1219.83" x2="521.85" y2="1279.83" stroke="#00f" stroke-width="4"/><line x1="527.20" y1="1219.67" x2="527.20" y2="1279.67" stroke="#00f" stroke-width="4"/><line x1="537.90" y1="1219.33" x2="537.90" y2="1279.33" stroke="#00f" stroke-width="4"/><line x1="548.59" y1="1219.00" x2="548.59" y2="1279.00" stroke="#00f" stroke-width="4"/><line x1="559.29" y1="1218.67" x2="559.29" y2="1278.67" stroke="#00f" stroke-width="4"/><line x1="580.69" y1="1218.00" x2="580.69" y2="1278.00" stroke="#00f" stroke-width="4"/><line x1="612.78" y1="1217.00" x2="612.78" y2="1277.00" stroke="#00f" stroke-width="4"/><line x1="644.88" y1="1216.00" x2="644.88" y2="1276.00" stroke="#00f" stroke-width="4"/><line x1="773.25" y1="1213.80" x2="773.25" y2="1273.80" stroke="#00f" stroke-width="4"/><line x1="901.63" y1="1211.80" x2="901.63" y2="1271.80" stroke="#00f" stroke-width="4"/><line x1="1030.00" y1="1209.80" x2="1030.00" y2="1269.80" stroke="#00f" stroke-width="4"/><line x1="1158.38" y1="1207.80" x2="1158.38" y2="1267.80" stroke="#00f" stroke-width="4"/><line x1="1286.76" y1="1205.80" x2="1286.76" y2="1265.80" stroke="#00f" stroke-width="4"/><line x1="1415.13" y1="1203.90" x2="1415.13" y2="1263.90" stroke="#00f" stroke-width="4"/><line x1="1543.51" y1="1202.00" x2="1543.51" y2="1262.00" stroke="#00f" stroke-width="4"/><line x1="1800.26" y1="1199.50" x2="1800.26" y2="1259.50" stroke="#00f" stroke-width="4"/><line x1="1928.64" y1="1198.50" x2="1928.64" y2="1258.50" stroke="#00f" stroke-width="4"/></g><g><line x1="656.4" y1="109.9" x2="836.3" y2="109.9" stroke="#000" stroke-width="7"/><path d="M745.90,81.23L721.90,124.23L769.90,124.23Z" fill="#000"/><line x1="656.4" y1="205.9" x2="836.3" y2="205.9" stroke="#f00" stroke-width="7"/><path d="M745.90,177.23L721.90,220.23L769.90,220.23Z" fill="#f00"/><line x1="656.4" y1="302.5" x2="731" y2="302.5" stroke="#00f" stroke-width="7"/><line x1="761" y1="302.5" x2="836.3" y2="302.5" stroke="#00f" stroke-width="7"/><path d="M745.90,276.33L723.90,315.33L767.90,315.33Z" fill="#fff" stroke="#5a5aff" stroke-width="3" stroke-linejoin="miter"/><line x1="1655.8" y1="103.2" x2="1719.5" y2="103.2" stroke="#000" stroke-width="6"/><line x1="1771" y1="103.2" x2="1835.2" y2="103.2" stroke="#000" stroke-width="6"/><rect x="1726.70" y="84.70" width="37" height="37" fill="#000"/><line x1="1655.8" y1="200.7" x2="1719.5" y2="200.7" stroke="#f00" stroke-width="6"/><line x1="1771" y1="200.7" x2="1835.2" y2="200.7" stroke="#f00" stroke-width="6"/><rect x="1726.70" y="182.20" width="37" height="37" fill="#f00"/><line x1="1655.8" y1="296.8" x2="1719.5" y2="296.8" stroke="#00f" stroke-width="6"/><line x1="1771" y1="296.8" x2="1835.2" y2="296.8" stroke="#00f" stroke-width="6"/><rect x="1728.45" y="280.05" width="33.5" height="33.5" fill="none" stroke="#6a6aff" stroke-width="3.5"/></g></svg></body></html>
